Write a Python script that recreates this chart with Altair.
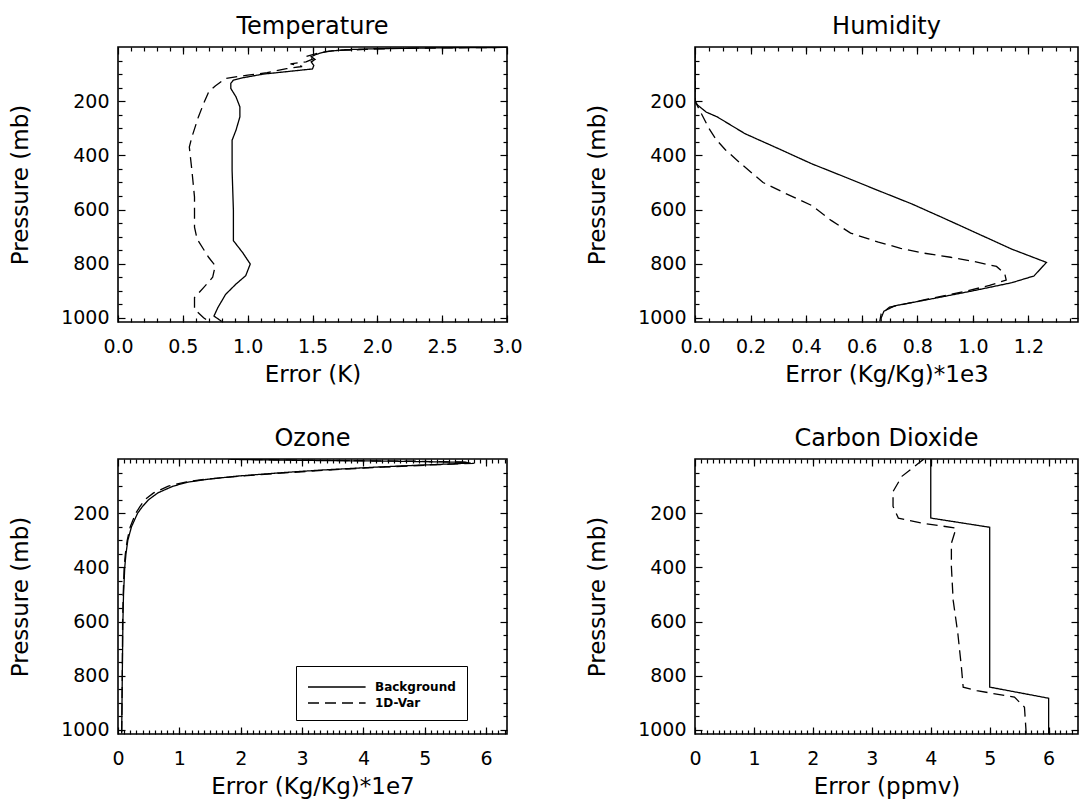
import altair as alt
import pandas as pd

# ---------------- data ----------------
# Temperature, error in K
t_bg_p = [0.5, 1.5, 3, 6, 10, 17, 27, 36, 46, 55, 68, 81, 100, 113, 122, 134, 153, 184, 221, 258,
          307, 344, 456, 604, 715, 758, 801, 844, 875, 913, 962, 993, 1013]
t_bg_x = [3.5, 3.0, 2.5, 2.0, 1.75, 1.6, 1.53, 1.49, 1.52, 1.49, 1.51, 1.50, 1.12, 0.97, 0.89, 0.87,
          0.87, 0.91, 0.94, 0.94, 0.91, 0.88, 0.88, 0.89, 0.89, 0.96, 1.02, 0.985, 0.91, 0.83, 0.77, 0.74, 0.80]
t_var_p = [0.5, 2, 5, 9, 14, 22, 35, 45, 55, 62, 72, 80, 95, 104, 116, 144, 165, 209, 258, 332, 369,
           456, 554, 665, 709, 777, 807, 850, 888, 925, 968, 999, 1013]
t_var_x = [3.5, 2.8, 2.2, 1.9, 1.65, 1.55, 1.45, 1.50, 1.45, 1.33, 1.42, 1.30, 1.15, 1.0, 0.83, 0.75,
           0.70, 0.66, 0.62, 0.57, 0.55, 0.57, 0.59, 0.59, 0.61, 0.70, 0.75, 0.73, 0.66, 0.59, 0.59, 0.66, 0.70]

# Humidity, error in (Kg/Kg)*1e3
h_bg_p = [0, 150, 200, 215, 240, 258, 320, 375, 431, 480, 530, 579, 634, 690, 746, 795, 845, 870,
          900, 930, 955, 975, 1000, 1013]
h_bg_x = [0, 0, 0.0, 0.01, 0.04, 0.08, 0.18, 0.30, 0.42, 0.54, 0.66, 0.78, 0.90, 1.02, 1.14, 1.265,
          1.22, 1.14, 1.0, 0.85, 0.72, 0.68, 0.67, 0.67]
h_var_p = [0, 150, 200, 250, 300, 340, 380, 435, 500, 540, 585, 640, 687, 720, 743, 761, 776, 792,
           810, 837, 860, 880, 900, 930, 960, 985, 1013]
h_var_x = [0, 0, 0.0, 0.025, 0.05, 0.075, 0.11, 0.17, 0.245, 0.325, 0.42, 0.49, 0.56, 0.66, 0.74,
           0.825, 0.92, 1.005, 1.085, 1.115, 1.12, 1.06, 0.98, 0.84, 0.70, 0.67, 0.665]

# Ozone, error in (Kg/Kg)*1e7
o_bg_p = [0.5, 2, 5, 8, 12, 15, 22, 30, 41, 50, 63, 75, 85, 100, 125, 150, 175, 200, 250, 300, 350,
          400, 500, 600, 800, 1013]
o_bg_x = [1.8, 2.0, 3.0, 4.5, 5.6, 5.75, 5.0, 4.2, 3.3, 2.7, 1.95, 1.45, 1.15, 0.90, 0.65, 0.50,
          0.40, 0.32, 0.22, 0.16, 0.13, 0.11, 0.09, 0.08, 0.07, 0.06]
o_var_p = [0.5, 2, 5, 8, 12, 16, 22, 30, 41, 50, 63, 75, 85, 100, 125, 150, 175, 200, 250, 300, 350,
           400, 500, 600, 800, 1013]
o_var_x = [1.9, 2.2, 3.3, 4.8, 5.7, 5.8, 5.1, 4.3, 3.4, 2.8, 2.0, 1.42, 1.10, 0.82, 0.58, 0.44,
           0.36, 0.29, 0.20, 0.15, 0.12, 0.10, 0.085, 0.075, 0.07, 0.06]

# Carbon dioxide, error in ppmv
c_bg_p = [0, 218, 252, 842, 883, 1015]
c_bg_x = [4.0, 4.0, 5.0, 5.0, 6.0, 6.0]
c_var_p = [0.5, 64, 120, 175, 218, 237, 255, 311, 397, 521, 645, 768, 842, 855, 879, 916, 1015]
c_var_x = [3.88, 3.51, 3.36, 3.36, 3.45, 3.86, 4.43, 4.35, 4.35, 4.38, 4.46, 4.52, 4.55, 4.78, 5.42,
           5.59, 5.62]

series_names = ["Background", "1D-Var"]

# tick label values
t_major = [0.0, 0.5, 1.0, 1.5, 2.0, 2.5, 3.0]
h_major = [0.0, 0.2, 0.4, 0.6, 0.8, 1.0, 1.2]
o_major = [0, 1, 2, 3, 4, 5, 6]
c_major = [0, 1, 2, 3, 4, 5, 6]
y_major = [200, 400, 600, 800, 1000]

t_minor = [round(i * 0.1, 2) for i in range(1, 30)]
h_minor = [round(i * 0.05, 2) for i in range(1, 28)]
o_minor = [round(i * 0.1, 2) for i in range(1, 64)]
c_minor = [round(i * 0.1, 2) for i in range(1, 65)]
y_minor = [v for v in range(50, 1001, 50) if v % 200]

FONT = "DejaVu Sans"
W, WR, H = 389, 383, 275
P_DOMAIN = [0, 1015]


def panel(p_bg, x_bg, p_var, x_var, title, xtitle, xdom, xmaj, xmin, xfmt, width, legend=None):
    df = pd.DataFrame({
        "p": p_bg + p_var,
        "err": x_bg + x_var,
        "series": [series_names[0]] * len(p_bg) + [series_names[1]] * len(p_var),
        "order": list(range(len(p_bg))) + list(range(len(p_var))),
    })
    xs = alt.Scale(domain=xdom, nice=False, zero=False)
    ys = alt.Scale(domain=P_DOMAIN, reverse=True, nice=False, zero=False)
    base = alt.Chart(df).properties(width=width, height=H)

    lab_x = alt.Axis(orient="bottom", values=xmaj, format=xfmt, title=xtitle, ticks=False,
                     tickSize=0, domain=False, grid=False, labelPadding=15, titlePadding=7,
                     labelFlush=False)
    lab_y = alt.Axis(orient="left", values=y_major, format="d", title="Pressure (mb)",
                     ticks=False, tickSize=0, domain=False, grid=False, labelPadding=9,
                     titlePadding=28, labelFlush=False)
    dash_kw = dict(scale=alt.Scale(domain=series_names, range=[[1, 0], [11, 6]]))
    dash_kw["legend"] = legend
    lines = base.mark_line(color="black", strokeWidth=1.3, clip=True).encode(
        x=alt.X("err:Q", scale=xs, axis=lab_x),
        y=alt.Y("p:Q", scale=ys, axis=lab_y),
        strokeDash=alt.StrokeDash("series:N", **dash_kw),
        order="order:Q",
    )

    def tick_axis(orient, values, size, offset):
        return alt.Axis(orient=orient, values=values, offset=offset, labels=False, title=None,
                        domain=False, grid=False, ticks=True, tickSize=size, tickColor="black",
                        tickWidth=1.2)

    layers = [lines]
    for xo, yo, vx, vy, sz in [("top", "right", xmaj, y_major, 7),
                               ("bottom", "left", xmaj, y_major, 7),
                               ("top", "right", xmin, y_minor, 4),
                               ("bottom", "left", xmin, y_minor, 4)]:
        layers.append(base.mark_line(strokeOpacity=0, clip=True).encode(
            x=alt.X("err:Q", scale=xs, axis=tick_axis(xo, vx, sz, -H)),
            y=alt.Y("p:Q", scale=ys, axis=tick_axis(yo, vy, sz, -width)),
            detail="series:N",
            order="order:Q",
        ))
    return alt.layer(*layers).resolve_axis(x="independent", y="independent").properties(
        title=title)


# legend: a long horizontal stroke symbol (custom path) on 18 px rows
leg = alt.Legend(orient="none", legendX=178, legendY=207, title=None,
                 symbolType="M-1,0H5.4", symbolSize=324, symbolStrokeWidth=1.3,
                 symbolStrokeColor="black", symbolFillColor="transparent",
                 labelFont=FONT, labelFontSize=12, labelFontWeight="bold", labelColor="black",
                 labelOffset=48, padding=11, rowPadding=0, strokeColor="black",
                 fillColor="white")

temp = panel(t_bg_p, t_bg_x, t_var_p, t_var_x, "Temperature", "Error (K)", [0, 3.0],
             t_major, t_minor, ".1f", W)
hum = panel(h_bg_p, h_bg_x, h_var_p, h_var_x, "Humidity", "Error (Kg/Kg)*1e3",
            [0, 1.4 * WR / W], h_major, h_minor, ".1f", WR)
ozo = panel(o_bg_p, o_bg_x, o_var_p, o_var_x, "Ozone", "Error (Kg/Kg)*1e7", [0, 6.34],
            o_major, o_minor, "d", W, legend=leg)
co2 = panel(c_bg_p, c_bg_x, c_var_p, c_var_x, "Carbon Dioxide", "Error (ppmv)",
            [0, 6.6 * WR / W], c_major, c_minor, "d", WR)

chart = alt.concat(
    temp, hum, ozo, co2, columns=2,
    spacing=alt.RowColnumber(row=137, column=188), bounds="flush",
).resolve_scale(
    strokeDash="independent"
).resolve_legend(
    strokeDash="independent"
).properties(
    padding={"left": 8, "top": 14, "right": 0, "bottom": 4},
    background="white",
).configure_view(
    stroke="black", strokeWidth=1.6
).configure_axis(
    labelFont=FONT, labelFontSize=19, labelColor="black",
    titleFont=FONT, titleFontSize=23, titleFontWeight="normal", titleColor="black",
).configure_title(
    font=FONT, fontSize=24, fontWeight="normal", color="black", offset=7, anchor="middle"
)

chart.save("out.html", embed_options={"renderer": "svg", "actions": False})
